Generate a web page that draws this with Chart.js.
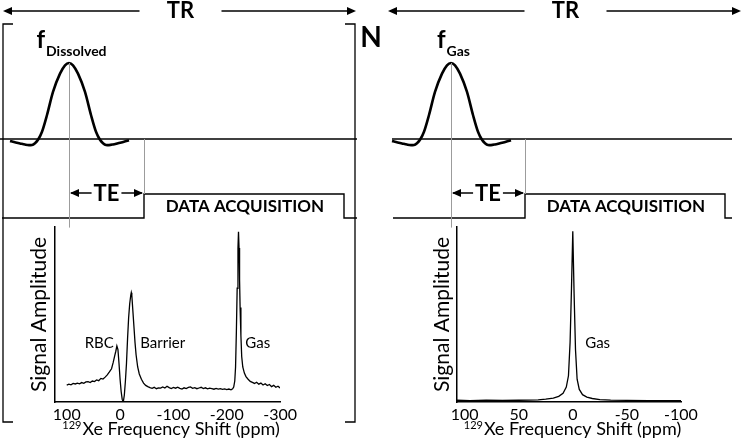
<!DOCTYPE html>
<html lang="en">
<head>
<meta charset="UTF-8">
<title>129Xe dissolved / gas spectroscopy sequence</title>
<script src="https://cdn.jsdelivr.net/npm/chart.js"></script>
<style>
  body { margin: 0; background: #fff; }
  #wrap { position: relative; width: 742px; height: 440px; overflow: hidden; }
  #wrap canvas { position: absolute; }
  #seq { left: 0; top: 0; }
  #specDiss { left: 0; top: 220px; }
  #specGas { left: 380px; top: 220px; }
</style>
</head>
<body>
<div id="wrap">
  <canvas id="seq" width="742" height="440"></canvas>
  <canvas id="specDiss" width="300" height="220"></canvas>
  <canvas id="specGas" width="362" height="220"></canvas>
</div>

<script>
  const FONT = 'Lato, "Open Sans", sans-serif';

  // ---- sequence timing (time axis, a.u.) : [dissolved, gas]
  const seqNames = ['Dissolved', 'Gas'];
  const trStart = [3, 388];
  const trEnd = [356, 741];
  const pulseCentre = [69, 451];
  const acqStart = [144, 525];
  const acqEnd = [344, 725];
  const rfLineStart = [0, 392];
  const rfLineEnd = [357, 732];
  const adcLineStart = [2, 393];
  const adcLineEnd = [357, 732];

  // sinc RF pulse: time offset from centre, relative amplitude
  const pulseOffset = [-59, -55, -49, -44, -40, -37, -34, -31, -27, -22, -16, -9, -4, 0,
                       4, 9, 16, 22, 27, 31, 34, 37, 40, 44, 49, 55, 60];
  const pulseAmp = [-0.026, -0.04, -0.058, -0.073, -0.08, -0.078, -0.055, -0.01, 0.096, 0.316, 0.62, 0.86, 0.97, 1,
                    0.97, 0.86, 0.62, 0.316, 0.096, -0.01, -0.055, -0.078, -0.08, -0.072, -0.055, -0.035, -0.015];

  // ---- spectra [ppm, relative amplitude]
  const dissolvedSpectrum = [
    [100, .097], [96, .102], [92, .098], [88, .106], [84, .103], [80, .108], [76, .104], [72, .111],
    [68, .107], [64, .115], [60, .116], [56, .111], [52, .12], [48, .117], [44, .126], [40, .122],
    [36, .135], [32, .131], [28, .142], [24, .155], [20, .172], [16, .19], [13, .225], [10, .265],
    [8, .29], [6, .32], [4, .30], [2, .22], [0, .13], [-2, .06], [-4, .015], [-6, 0], [-8, .04],
    [-10, .12], [-12, .22], [-14, .36], [-16, .48], [-18, .56], [-20, .61], [-21, .625], [-22, .61],
    [-24, .52], [-26, .43], [-28, .34], [-30, .27], [-33, .2], [-36, .16], [-40, .13], [-44, .108],
    [-48, .095], [-52, .088], [-56, .082], [-60, .078], [-64, .084], [-68, .076], [-72, .081],
    [-76, .079], [-80, .086], [-84, .08], [-88, .09], [-92, .082], [-96, .077], [-100, .083],
    [-104, .079], [-108, .085], [-112, .078], [-116, .074], [-120, .081], [-124, .077], [-128, .083],
    [-132, .086], [-136, .078], [-140, .082], [-144, .076], [-148, .08], [-152, .084], [-156, .077],
    [-160, .081], [-164, .075], [-168, .079], [-172, .077], [-176, .073], [-180, .078], [-184, .074],
    [-188, .076], [-192, .072], [-196, .075], [-200, .071], [-204, .074], [-208, .07], [-211, .075],
    [-213, .085], [-215, .12], [-216.5, .2], [-218, .4], [-219.5, .65], [-221, .88], [-222, .973],
    [-223, .88], [-224, .7], [-225, .54], [-226.5, .38], [-228, .26], [-230, .2], [-233, .165],
    [-236, .145], [-240, .13], [-244, .118], [-248, .112], [-252, .106], [-256, .113], [-260, .102],
    [-264, .108], [-268, .097], [-272, .104], [-276, .094], [-280, .1], [-284, .088], [-288, .095],
    [-292, .084], [-296, .09], [-300, .08]
  ];
  const gasSpectrum = [
    [107, .01], [95, .008], [80, .01], [65, .009], [50, .01], [40, .011], [32, .012], [25, .016],
    [18, .022], [13, .032], [9, .05], [6, .085], [4, .15], [2.5, .34], [1.2, .65], [0, .975],
    [-1.2, .62], [-2.5, .3], [-4, .13], [-6, .072], [-9, .042], [-13, .028], [-18, .02],
    [-25, .014], [-35, .011], [-50, .009], [-70, .008], [-85, .008], [-100, .008]
  ];

  const dissolvedTicks = [100, 0, -100, -200, -300];
  const gasTicks = [100, 50, 0, -50, -100];
  const dissolvedPeakNames = ['RBC', 'Barrier', 'Gas'];
  const dissolvedPeakPpm = [39, -80, -258];
  const gasPeakNames = ['Gas'];
  const gasPeakPpm = [-23];

  // ---- layout of the sequence drawing (pixels)
  const H = 440;
  const rfBaseY = 139, rfPeakY = 63, adcBaseY = 218, adcTopY = 194;
  const trY = 11, bracketTop = 24, bracketBottom = 422, bracketX = [3, 355];

  function rowRange(base, top) {
    const u = base - top;
    return { min: (base - H) / u, max: base / u };
  }

  function line(ctx, x0, y0, x1, y1) {
    ctx.beginPath(); ctx.moveTo(x0, y0); ctx.lineTo(x1, y1); ctx.stroke();
  }
  function head(ctx, x, y, dir) {
    ctx.beginPath();
    ctx.moveTo(x, y);
    ctx.lineTo(x - dir * 9, y - 4);
    ctx.lineTo(x - dir * 9, y + 4);
    ctx.closePath(); ctx.fill();
  }

  const seqText = {
    id: 'seqText',
    afterDatasetsDraw(chart) {
      const { ctx } = chart;
      const x = chart.scales.x, rf = chart.scales.yRF, adc = chart.scales.yADC;
      ctx.save();
      ctx.fillStyle = '#000';
      seqNames.forEach((name, i) => {
        const pc = x.getPixelForValue(pulseCentre[i]);
        const as = x.getPixelForValue(acqStart[i]);
        const ae = x.getPixelForValue(acqEnd[i]);

        // thin guide lines
        ctx.strokeStyle = '#9c9c9c'; ctx.lineWidth = 1;
        line(ctx, pc + 0.5, rf.getPixelForValue(1), pc + 0.5, adc.getPixelForValue(-0.4));
        line(ctx, as + 0.5, rf.getPixelForValue(0), as + 0.5, adc.getPixelForValue(1));

        // TE arrow
        ctx.strokeStyle = '#000'; ctx.lineWidth = 1.5;
        const teY = adc.getPixelForValue(1) - 1;
        ctx.font = 'bold 22px ' + FONT;
        const teW = ctx.measureText('TE').width;
        const teC = (pc + as) / 2;
        line(ctx, pc + 2, teY, teC - teW / 2 - 2, teY);
        line(ctx, teC + teW / 2 + 2, teY, as - 2, teY);
        head(ctx, pc + 1, teY, -1);
        head(ctx, as - 1, teY, 1);
        ctx.textAlign = 'center'; ctx.textBaseline = 'middle';
        ctx.fillText('TE', teC, teY + 1);

        // acquisition label
        ctx.font = 'bold 17px ' + FONT;
        ctx.fillText('DATA ACQUISITION', (as + ae) / 2 + 1, (adc.getPixelForValue(0) + adc.getPixelForValue(1)) / 2 + 1);

        // TR arrow
        const t0 = x.getPixelForValue(trStart[i]), t1 = x.getPixelForValue(trEnd[i]);
        const tc = (t0 + t1) / 2 + 1;
        line(ctx, t0 + 2, trY, tc - 41, trY);
        line(ctx, tc + 41, trY, t1 - 2, trY);
        head(ctx, t0, trY, -1);
        head(ctx, t1, trY, 1);
        ctx.font = 'bold 22px ' + FONT;
        ctx.fillText('TR', tc, trY);

        // flip-angle label f with subscript
        ctx.textAlign = 'left'; ctx.textBaseline = 'alphabetic';
        ctx.font = 'bold 24px ' + FONT;
        const fw = ctx.measureText('f').width;
        ctx.font = 'bold 14px ' + FONT;
        const sw = ctx.measureText(name).width;
        const fx = pc - (fw + sw) / 2 + 2;
        ctx.fillText(name, fx + fw + 1, 56);
        ctx.font = 'bold 24px ' + FONT;
        ctx.fillText('f', fx, 48);
      });

      // repetition bracket around the dissolved block
      ctx.strokeStyle = '#000'; ctx.lineWidth = 1.3;
      ctx.beginPath();
      ctx.moveTo(bracketX[0] + 10, bracketTop); ctx.lineTo(bracketX[0], bracketTop);
      ctx.lineTo(bracketX[0], bracketBottom); ctx.lineTo(bracketX[0] + 10, bracketBottom);
      ctx.moveTo(bracketX[1] - 10, bracketTop); ctx.lineTo(bracketX[1], bracketTop);
      ctx.lineTo(bracketX[1], bracketBottom); ctx.lineTo(bracketX[1] - 10, bracketBottom);
      ctx.stroke();
      ctx.font = 'bold 28px ' + FONT;
      ctx.textAlign = 'center'; ctx.textBaseline = 'middle';
      ctx.fillText('N', 371, 38);
      ctx.restore();
    }
  };

  const seqDatasets = [];
  seqNames.forEach((name, i) => {
    seqDatasets.push({
      label: 'RF ' + name,
      data: [{ x: rfLineStart[i], y: 0 }, { x: rfLineEnd[i], y: 0 }],
      yAxisID: 'yRF', borderColor: '#000', borderWidth: 1.3, pointRadius: 0
    });
    seqDatasets.push({
      label: 'pulse ' + name,
      data: pulseOffset.map((o, k) => ({ x: pulseCentre[i] + o, y: pulseAmp[k] })),
      yAxisID: 'yRF', borderColor: '#000', borderWidth: 2.6, pointRadius: 0,
      cubicInterpolationMode: 'monotone'
    });
    seqDatasets.push({
      label: 'ADC ' + name,
      data: [
        { x: adcLineStart[i], y: 0 }, { x: acqStart[i], y: 0 }, { x: acqStart[i], y: 1 },
        { x: acqEnd[i], y: 1 }, { x: acqEnd[i], y: 0 }, { x: adcLineEnd[i], y: 0 }
      ],
      yAxisID: 'yADC', borderColor: '#000', borderWidth: 1.4, pointRadius: 0, tension: 0
    });
  });

  new Chart(document.getElementById('seq'), {
    type: 'line',
    data: { datasets: seqDatasets },
    options: {
      responsive: false, animation: false, devicePixelRatio: 1,
      layout: { padding: 0 },
      plugins: { legend: { display: false }, tooltip: { enabled: false } },
      scales: {
        x: { type: 'linear', min: 0, max: 742, display: false },
        yRF: { type: 'linear', ...rowRange(rfBaseY, rfPeakY), display: false },
        yADC: { type: 'linear', ...rowRange(adcBaseY, adcTopY), display: false }
      }
    },
    plugins: [seqText]
  });

  // ---- spectra
  const specText = {
    id: 'specText',
    afterDraw(chart, args, opts) {
      const { ctx, chartArea } = chart;
      const x = chart.scales.x, y = chart.scales.y;
      ctx.save();
      ctx.fillStyle = '#000';
      ctx.textAlign = 'center'; ctx.textBaseline = 'middle';
      ctx.font = '15px ' + FONT;
      opts.names.forEach((n, k) => ctx.fillText(n, x.getPixelForValue(opts.ppm[k]), y.getPixelForValue(0.335)));

      const main = 'Xe Frequency Shift (ppm)', sup = '129';
      ctx.font = '18px ' + FONT;
      const wMain = ctx.measureText(main).width;
      ctx.font = '11px ' + FONT;
      const wSup = ctx.measureText(sup).width;
      const left = (chartArea.left + chartArea.right) / 2 - (wMain + wSup) / 2 + 3;
      const base = x.bottom - 5;
      ctx.textAlign = 'left'; ctx.textBaseline = 'alphabetic';
      ctx.fillText(sup, left, base - 6);
      ctx.font = '18px ' + FONT;
      ctx.fillText(main, left + wSup + 1, base);
      ctx.restore();
    }
  };

  function spectrum(id, points, xMin, xMax, ticks, axisW, padRight, titlePad, names, ppm) {
    return new Chart(document.getElementById(id), {
      type: 'line',
      data: {
        datasets: [{
          data: points.map(p => ({ x: p[0], y: p[1] })),
          borderColor: '#000', borderWidth: 1.3, pointRadius: 0, tension: 0
        }]
      },
      options: {
        responsive: false, animation: false, devicePixelRatio: 1,
        layout: { padding: { top: 7, right: padRight, left: 0, bottom: 0 } },
        plugins: { legend: { display: false }, tooltip: { enabled: false }, specText: { names, ppm } },
        scales: {
          x: {
            type: 'linear', reverse: true, min: xMin, max: xMax,
            grid: { display: false, drawTicks: false },
            border: { display: true, color: '#000', width: 1.5 },
            ticks: { color: '#000', font: { family: FONT, size: 16 }, padding: 3, autoSkip: false, maxRotation: 0 },
            afterBuildTicks: s => { s.ticks = ticks.map(v => ({ value: v })); },
            afterFit: s => { s.height = 38; }
          },
          y: {
            min: 0, max: 1,
            grid: { display: false, drawTicks: false },
            border: { display: true, color: '#000', width: 1.5 },
            ticks: { display: false },
            title: {
              display: true, text: 'Signal Amplitude', color: '#000',
              font: { family: FONT, size: 21 }, padding: { top: titlePad, bottom: 0 }
            },
            afterFit: s => { s.width = axisW; }
          }
        }
      },
      plugins: [specText]
    });
  }

  spectrum('specDiss', dissolvedSpectrum, -300, 122, dissolvedTicks, 55, 17, 27, dissolvedPeakNames, dissolvedPeakPpm);
  spectrum('specGas', gasSpectrum, -100, 107, gasTicks, 77, 61, 50, gasPeakNames, gasPeakPpm);
</script>
</body>
</html>
